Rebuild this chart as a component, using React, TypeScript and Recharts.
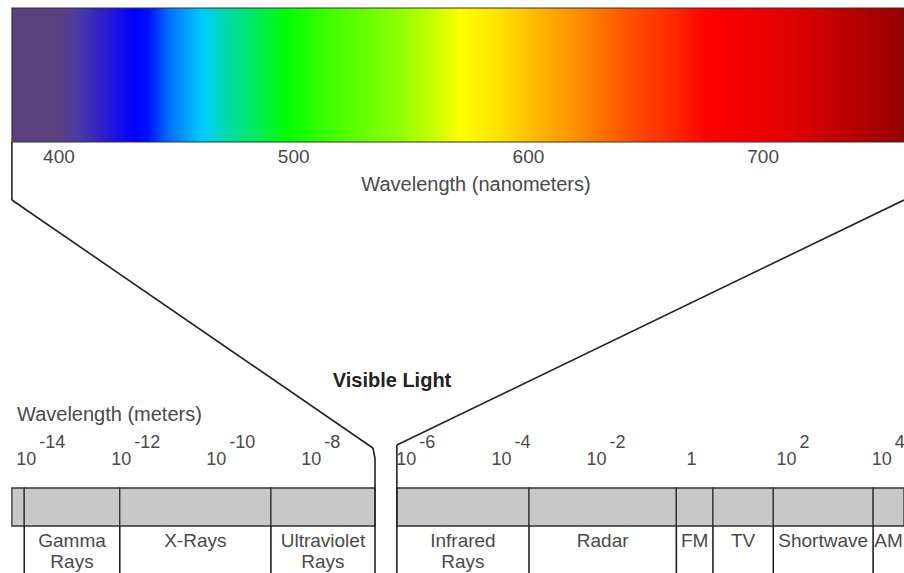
import React from "react";
import {
  ComposedChart,
  XAxis,
  YAxis,
  ReferenceArea,
  ReferenceLine,
  ReferenceDot,
} from "recharts";

// visible strip: colour stops read along the band (nm)
const SPECTRUM_NM = [
  380, 400, 408, 418, 432, 438, 447, 461, 473, 486, 497, 516, 545, 562, 571,
  588, 605, 620, 643, 665, 676, 712, 733, 760,
];
const SPECTRUM_COLORS = [
  "#5c4180", "#5c4180", "#4b3aa6", "#3020c8", "#0000ff", "#0010ff", "#0070ff",
  "#00ccff", "#00dda0", "#00ee50", "#00ff00", "#40ff00", "#90ff00", "#d0ff00",
  "#ffff00", "#ffe000", "#ffb400", "#ff9000", "#ff5000", "#ff2000", "#ff0000",
  "#e00000", "#c00000", "#960000",
];
const NM_TICKS = [400, 500, 600, 700];

// full spectrum, log10 of wavelength in metres
const EXPONENTS = [-14, -12, -10, -8, -6, -4, -2, 0, 2, 4];
const BAND_NAMES = [
  "", "Gamma Rays", "X-Rays", "Ultraviolet Rays", "Infrared Rays", "Radar",
  "FM", "TV", "Shortwave", "AM",
];
const BAND_FROM = [-14.3, -14.04, -12.03, -8.85, -6.2, -3.42, -0.32, 0.45, 1.72, 3.82];
const BAND_TO = [-14.04, -12.03, -8.85, -6.66, -3.42, -0.32, 0.45, 1.72, 3.82, 4.47];

const W = 904;
const H = 573;
const LOG_MIN = -14.55;
const LOG_MAX = 4.47;
const NM_MIN = SPECTRUM_NM[0];
const NM_MAX = SPECTRUM_NM[SPECTRUM_NM.length - 1];

const FONT = "'Liberation Sans', Arial, sans-serif";
const TEXT = "#4a4a4a";
const LINE = "#222";

const bandRows = BAND_NAMES.map((name, i) => ({ name, lo: BAND_FROM[i], hi: BAND_TO[i] }));

// where the visible-light gap sits between the two groups of bands
const gapIdx = BAND_TO.findIndex((t, i) => i < BAND_FROM.length - 1 && t < BAND_FROM[i + 1]);
const leftEnd = BAND_TO[gapIdx];
const rightStart = BAND_FROM[gapIdx + 1];

const bandLabel = (name: string) => (props: any) => {
  const { x, y, width, height } = props.viewBox;
  const cx = x + width / 2;
  return (
    <text x={cx} y={y + height + 21} textAnchor="middle" fontSize={19} fill={TEXT} fontFamily={FONT}>
      {name.split(" ").map((w, k) => (
        <tspan key={k} x={cx} dy={k === 0 ? 0 : 21}>
          {w}
        </tspan>
      ))}
    </text>
  );
};

const expLabel = (e: number) => (props: any) => {
  const { x, y, width, height } = props.viewBox;
  const cx = x + width / 2;
  const cy = y + height / 2;
  if (e === 0) {
    return (
      <text x={cx} y={cy} textAnchor="middle" fontSize={18} fill={TEXT} fontFamily={FONT}>
        1
      </text>
    );
  }
  return (
    <g>
      <text x={cx} y={cy} textAnchor="middle" fontSize={18} fill={TEXT} fontFamily={FONT}>
        10
      </text>
      <text x={cx + 13} y={cy - 17} fontSize={18} fill={TEXT} fontFamily={FONT}>
        {String(e)}
      </text>
    </g>
  );
};

const nmLabel = (v: number) => (props: any) => {
  const { x, y, width, height } = props.viewBox;
  return (
    <text x={x + width / 2} y={y + height / 2} textAnchor="middle" fontSize={19} fill={TEXT} fontFamily={FONT}>
      {v}
    </text>
  );
};

export default function App() {
  const seg = (pts: [number, number][], key: string) =>
    pts.slice(1).map((p, i) => (
      <ReferenceLine
        key={`${key}-${i}`}
        xAxisId="log"
        yAxisId="y"
        segment={[
          { x: pts[i][0], y: pts[i][1] },
          { x: p[0], y: p[1] },
        ]}
        stroke={LINE}
        strokeWidth={1.6}
        ifOverflow="visible"
      />
    ));

  return (
    <div style={{ position: "absolute", left: 0, top: 0, background: "#fff" }}>
      <ComposedChart
        width={W}
        height={H}
        data={bandRows}
        margin={{ top: 0, right: 0, bottom: 0, left: 0 }}
      >
        <defs>
          <linearGradient id="spectrum" x1="0" y1="0" x2="1" y2="0">
            {SPECTRUM_NM.map((nm, i) => (
              <stop key={nm} offset={(nm - NM_MIN) / (NM_MAX - NM_MIN)} stopColor={SPECTRUM_COLORS[i]} />
            ))}
          </linearGradient>
        </defs>
        <XAxis xAxisId="log" dataKey="lo" type="number" domain={[LOG_MIN, LOG_MAX]} hide allowDataOverflow />
        <XAxis
          xAxisId="nm"
          dataKey="lo"
          type="number"
          domain={[NM_MIN, NM_MAX]}
          padding={{ left: 12, right: 0 }}
          hide
          allowDataOverflow
        />
        <YAxis yAxisId="y" dataKey="hi" type="number" domain={[0, H]} reversed hide allowDataOverflow />

        <ReferenceArea
          xAxisId="nm"
          yAxisId="y"
          x1={NM_MIN}
          x2={NM_MAX}
          y1={8}
          y2={142}
          fill="url(#spectrum)"
          fillOpacity={1}
          stroke="#333"
          strokeWidth={1.2}
          ifOverflow="visible"
        />
        {NM_TICKS.map((t) => (
          <ReferenceDot
            key={`nm-${t}`}
            xAxisId="nm"
            yAxisId="y"
            x={t}
            y={163}
            r={1}
            fill="none"
            stroke="none"
            label={nmLabel(t)}
            ifOverflow="visible"
          />
        ))}

        {bandRows.map((b, i) => (
          <ReferenceArea
            key={`band-${i}`}
            xAxisId="log"
            yAxisId="y"
            x1={b.lo}
            x2={b.hi}
            y1={488}
            y2={526}
            fill="#c8c8c8"
            fillOpacity={1}
            stroke="#333"
            strokeWidth={1.3}
            ifOverflow="visible"
            label={b.name ? bandLabel(b.name) : undefined}
          />
        ))}
        {bandRows.map((b, i) =>
          b.name && i !== gapIdx + 1
            ? seg(
                [
                  [b.lo, 526],
                  [b.lo, H],
                ],
                `div-${i}`
              )
            : null
        )}

        {seg(
          [
            [BAND_FROM[0], 142],
            [BAND_FROM[0], 200],
            [leftEnd - 0.045, 448],
            [leftEnd, 458],
            [leftEnd, H],
          ],
          "left"
        )}
        {seg(
          [
            [LOG_MAX, 200],
            [rightStart, 445],
            [rightStart, H],
          ],
          "right"
        )}

        {EXPONENTS.map((e) => (
          <ReferenceDot
            key={`exp-${e}`}
            xAxisId="log"
            yAxisId="y"
            x={e}
            y={465}
            r={1}
            fill="none"
            stroke="none"
            label={expLabel(e)}
            ifOverflow="visible"
          />
        ))}

        <text x={476} y={191} textAnchor="middle" fontSize={20} fill={TEXT} fontFamily={FONT}>
          Wavelength (nanometers)
        </text>
        <text x={17} y={421} fontSize={20} fill={TEXT} fontFamily={FONT}>
          Wavelength (meters)
        </text>
        <text x={392} y={387} textAnchor="middle" fontSize={20} fontWeight="bold" fill="#222" fontFamily={FONT}>
          Visible Light
        </text>
      </ComposedChart>
    </div>
  );
}
